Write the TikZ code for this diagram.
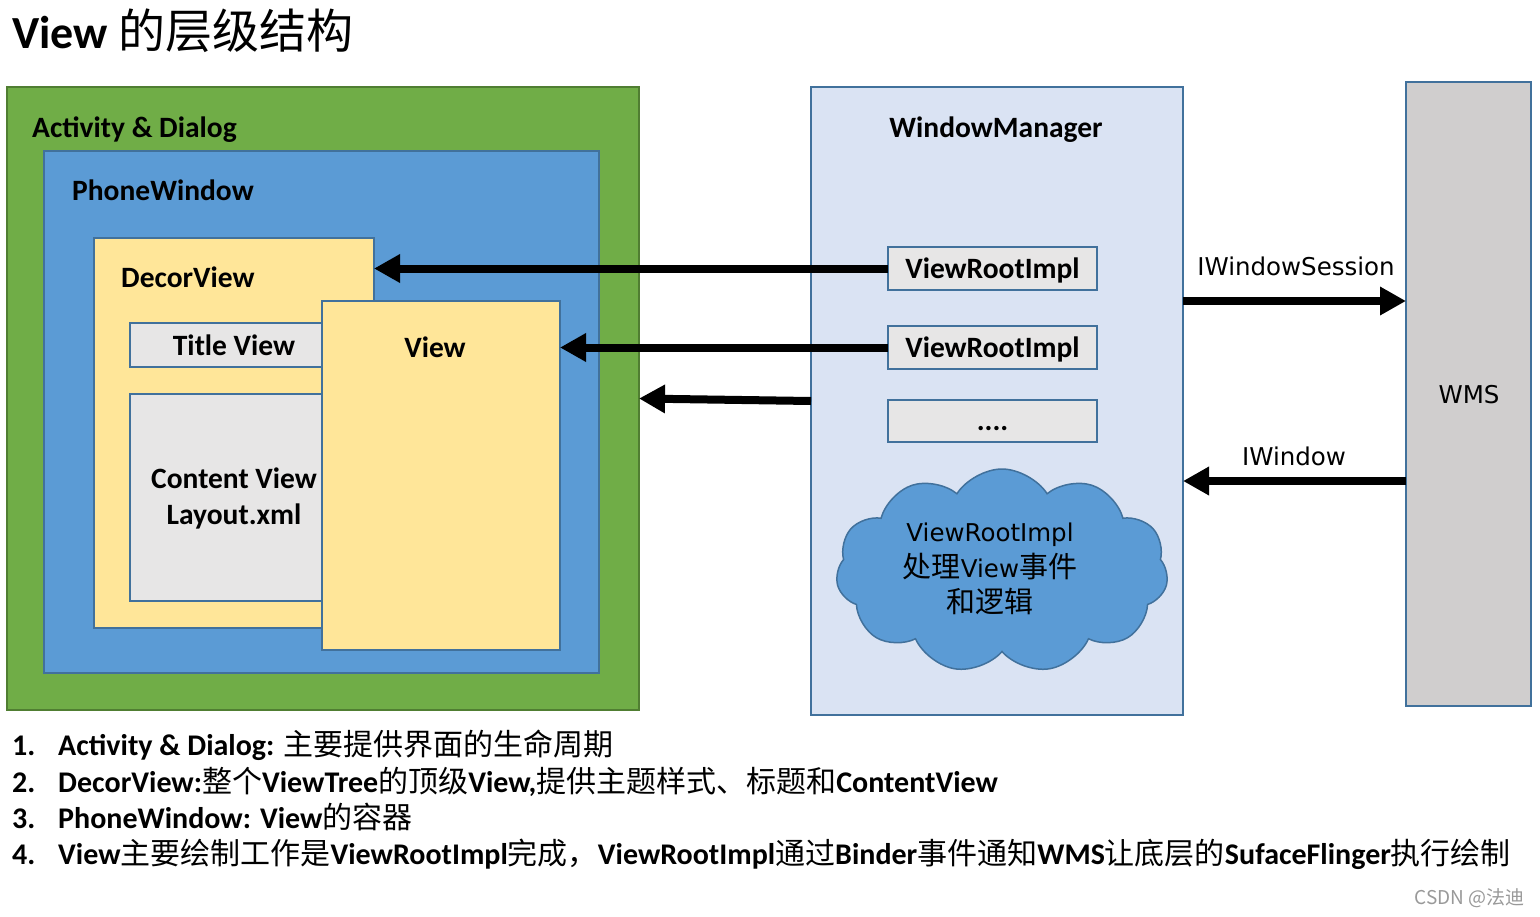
\documentclass[tikz,border=0pt]{standalone}
\usepackage{fontspec}
\setmainfont{Carlito}
\newfontfamily\song{Noto Sans CJK SC}
\newfontfamily\dv{DejaVu Sans}
\newfontfamily\cjk{Noto Sans CJK SC}
\usetikzlibrary{arrows.meta,shapes.symbols}
\definecolor{grn}{HTML}{70AD47}
\definecolor{grnb}{HTML}{507E32}
\definecolor{blu}{HTML}{5B9BD5}
\definecolor{blub}{HTML}{41719C}
\definecolor{yel}{HTML}{FFE699}
\definecolor{gry}{HTML}{E7E6E6}
\definecolor{wmc}{HTML}{DAE3F3}
\definecolor{wmsc}{HTML}{D0CECE}
\newcommand\zh[1]{{\song\mdseries #1}}
\begin{document}
\begin{tikzpicture}[x=1pt,y=-1pt,
  box/.style={rectangle, draw=blub, line width=2pt, inner sep=0pt, outer sep=0pt},
  lbl/.style={font=\fontsize{29.5}{35}\selectfont\bfseries, inner sep=0pt, anchor=base},
  thin/.style={font=\dv\fontsize{24.5}{30}\selectfont, inner sep=0pt, anchor=base},
  lst/.style={font=\fontsize{30}{36}\selectfont\bfseries, inner sep=0pt, anchor=base west},
  arr/.style={line width=8pt, -{Triangle[length=26pt,width=27pt]}}
]
\useasboundingbox[fill=white] (0,0) rectangle (1540,916);

% title
\node[inner sep=0pt, anchor=base west, font=\fontsize{46}{54}\selectfont\bfseries] (title) at (12,48) {View {\fontsize{47}{54}\selectfont\zh{的层级结构}}};

% left nested boxes
\node[box, draw=grnb, fill=grn, minimum width=632pt, minimum height=623pt] (act) at (323,398.5) {};
\node[box, fill=blu, minimum width=555pt, minimum height=522pt] (pw) at (321.5,412) {};
\node[box, fill=yel, minimum width=280pt, minimum height=390pt] (decor) at (234,433) {};
\node[box, fill=gry, minimum width=210pt, minimum height=44pt] (tv) at (235,345) {};
\node[box, fill=gry, minimum width=210pt, minimum height=207pt] (cv) at (235,497.5) {};
\node[box, fill=yel, minimum width=238pt, minimum height=349pt] (view) at (441,475.5) {};

\node[lbl, anchor=base west] (actl) at (32,137) {Activity \& Dialog};
\node[lbl, anchor=base west] (pwl) at (72,200) {PhoneWindow};
\node[lbl, anchor=base west] (decorl) at (121,287) {DecorView};
\node[lbl] (tvl) at (234,355) {Title View};
\node[lbl] (cvl1) at (234,488) {Content View};
\node[lbl] (cvl2) at (234,524) {Layout.xml};
\node[lbl] (viewl) at (435,357) {View};

% window manager
\node[box, fill=wmc, minimum width=372pt, minimum height=628pt] (wm) at (997,401) {};
\node[lbl] (wml) at (996,137) {WindowManager};
\node[box, fill=gry, minimum width=209pt, minimum height=43pt] (vr1) at (992.5,268.5) {};
\node[box, fill=gry, minimum width=209pt, minimum height=43pt] (vr2) at (992.5,347.5) {};
\node[box, fill=gry, minimum width=209pt, minimum height=42pt] (vr3) at (992.5,421) {};
\node[lbl] (vr1l) at (992.5,278) {ViewRootImpl};
\node[lbl] (vr2l) at (992.5,357) {ViewRootImpl};
\node[lbl] (vr3l) at (992.5,430) {....};

\node[cloud, cloud puffs=11, cloud puff arc=115, aspect=1.65, draw=blub, fill=blu, line width=1.5pt, minimum width=332pt, minimum height=204pt, inner sep=0pt] (cloud) at (1002,571) {};
\node[thin] (cl1) at (990,541) {ViewRootImpl};
\node[thin] (cl2) at (990,577) {{\fontsize{29}{30}\selectfont\zh{处理}}View{\fontsize{29}{30}\selectfont\zh{事件}}};
\node[thin] (cl3) at (990,612) {\fontsize{29}{30}\selectfont\zh{和逻辑}};

% WMS
\node[box, fill=wmsc, minimum width=125pt, minimum height=624pt] (wms) at (1468.5,394) {};
\node[thin] (wmsl) at (1469,403) {WMS};

% arrows
\coordinate (ya) at (0,301);
\coordinate (yb) at (0,481);
\draw[arr] (vr1.west) -- (vr1.west -| decor.east);
\draw[arr] (vr2.west) -- (vr2.west -| view.east);
\draw[arr] (wm.west) -- (act.east);
\draw[arr] (wm.east |- ya) -- (wms.west |- ya);
\draw[arr] (wms.west |- yb) -- (wm.east |- yb);
\node[thin] (iws) at (1296,275) {IWindowSession};
\node[thin] (iw) at (1294,465) {IWindow};

% list
\node[lst] (n1) at (12,755) {1.};
\node[lst] (n2) at (12,792) {2.};
\node[lst] (n3) at (12,828) {3.};
\node[lst] (n4) at (12,864) {4.};
\node[lst] (t1) at (58,755) {Activity \& Dialog: \zh{主要提供界面的生命周期}};
\node[lst] (t2) at (58,792) {DecorView:\zh{整个}ViewTree\zh{的顶级}View,\zh{提供主题样式、标题和}ContentView};
\node[lst] (t3) at (58,828) {PhoneWindow: View\zh{的容器}};
\node[lst] (t4) at (58,864) {View\zh{主要绘制工作是}ViewRootImpl\zh{完成，}ViewRootImpl\zh{通过}Binder\zh{事件通知}WMS\zh{让底层的}SufaceFlinger\zh{执行绘制}};

\node[inner sep=0pt, anchor=base east, text=black!40, font=\cjk\fontsize{19}{22}\selectfont] (wmk) at (1525,904) {CSDN @法迪};
\end{tikzpicture}
\end{document}
